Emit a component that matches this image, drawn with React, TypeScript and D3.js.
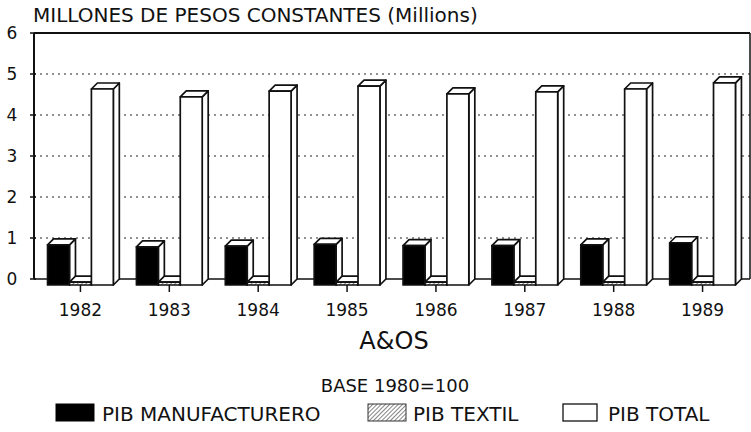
import React from 'react'
import * as d3 from 'd3'

// data
const years = ['1982', '1983', '1984', '1985', '1986', '1987', '1988', '1989']
const manufacturero = [0.98, 0.93, 0.95, 0.99, 0.96, 0.96, 0.98, 1.03]
const textil = [0.07, 0.07, 0.07, 0.07, 0.07, 0.07, 0.07, 0.07]
const total = [4.78, 4.59, 4.73, 4.85, 4.66, 4.71, 4.78, 4.93]
const yTicks = [0, 1, 2, 3, 4, 5, 6]
const seriesKeys = ['manufacturero', 'textil', 'total']
const legendLabels = ['PIB MANUFACTURERO', 'PIB TEXTIL', 'PIB TOTAL']

const W = 751
const H = 432
const FONT = "'DejaVu Sans', Verdana, sans-serif"
const DEPTH = 6

const left = 34
const right = 750
const top = 33
const bottom = 279

// one 3D bar: front face, top face, right side face
const Bar3D = ({ x, w, yTop, y0, fill }) => {
    const d = DEPTH
    const front = `M${x},${yTop + d}H${x + w}V${y0 + d}H${x}Z`
    const topFace = `M${x},${yTop + d}L${x + d},${yTop}H${x + w + d}L${x + w},${yTop + d}Z`
    const side = `M${x + w},${yTop + d}L${x + w + d},${yTop}V${y0}L${x + w},${y0 + d}Z`
    return (
        <g stroke='#111' strokeWidth={1.7} strokeLinejoin='round'>
            <path d={side} fill='#fff' />
            <path d={topFace} fill='#fff' />
            <path d={front} fill={fill} />
        </g>
    )
}

const App = () => {
    const y = d3.scaleLinear().domain([0, 6]).range([bottom, top])

    const x0 = d3
        .scaleBand()
        .domain(years)
        .range([36, 747])
        .paddingInner(0.26)
        .paddingOuter(0.13)

    const x1 = d3
        .scaleBand()
        .domain(seriesKeys)
        .range([0, x0.bandwidth()])

    const fills = {
        manufacturero: '#000',
        textil: 'url(#hatch)',
        total: '#fff',
    }
    const values = { manufacturero, textil, total }

    return (
        <svg
            width={W}
            height={H}
            style={{ position: 'absolute', left: 0, top: 0, background: '#fff' }}
            fontFamily={FONT}
        >
            <defs>
                <pattern id='hatch' width={3} height={3} patternUnits='userSpaceOnUse' patternTransform='rotate(45)'>
                    <rect width={3} height={3} fill='#fff' />
                    <line x1={0} y1={0} x2={0} y2={3} stroke='#333' strokeWidth={1.2} />
                </pattern>
            </defs>

            {/* title */}
            <text x={33} y={22} fontSize={20} fill='#111'>
                MILLONES DE PESOS CONSTANTES (Millions)
            </text>

            {/* dotted grid */}
            {yTicks.filter(t => t > 0 && t < 6).map(t => (
                <line
                    key={t}
                    x1={left}
                    x2={right}
                    y1={y(t)}
                    y2={y(t)}
                    stroke='#222'
                    strokeWidth={1}
                    strokeDasharray='2,4'
                />
            ))}

            {/* frame */}
            <line x1={left} x2={right} y1={top} y2={top} stroke='#111' strokeWidth={2} />
            <line x1={right} x2={right} y1={top} y2={bottom} stroke='#111' strokeWidth={1.5} />
            <line x1={left} x2={right} y1={bottom} y2={bottom} stroke='#111' strokeWidth={1.5} />
            <line x1={left} x2={left} y1={top} y2={bottom} stroke='#111' strokeWidth={2} />

            {/* y ticks and labels */}
            {yTicks.map(t => (
                <g key={t}>
                    <line x1={left - 4} x2={left + 2} y1={y(t)} y2={y(t)} stroke='#111' strokeWidth={1.5} />
                    <text
                        x={12}
                        y={y(t)}
                        dy='0.36em'
                        textAnchor='middle'
                        fontSize={17}
                        fill='#111'
                    >
                        {t}
                    </text>
                </g>
            ))}

            {/* bars */}
            {years.map((yr, i) => (
                <g key={yr}>
                    {seriesKeys.map(k => (
                        <Bar3D
                            key={k}
                            x={x0(yr) + x1(k)}
                            w={x1.bandwidth()}
                            yTop={y(values[k][i])}
                            y0={y(0)}
                            fill={fills[k]}
                        />
                    ))}
                    <line
                        x1={x0(yr) + x0.bandwidth() / 2}
                        x2={x0(yr) + x0.bandwidth() / 2}
                        y1={y(0) + DEPTH}
                        y2={y(0) + DEPTH + 7}
                        stroke='#111'
                        strokeWidth={1.5}
                    />
                    <text
                        x={x0(yr) + x0.bandwidth() / 2}
                        y={316}
                        textAnchor='middle'
                        fontSize={17}
                        fill='#111'
                    >
                        {yr}
                    </text>
                </g>
            ))}

            {/* axis title */}
            <text x={394} y={349} textAnchor='middle' fontSize={24} fill='#111'>
                A&amp;OS
            </text>
            <text x={395} y={392} textAnchor='middle' fontSize={18} fill='#111'>
                BASE 1980=100
            </text>

            {/* legend */}
            <rect x={56} y={404} width={38} height={17} fill='#000' stroke='#000' />
            <text x={102} y={421} fontSize={20} fill='#111'>{legendLabels[0]}</text>
            <rect x={368} y={404} width={38} height={17} fill='url(#hatch)' stroke='#333' strokeWidth={1} />
            <text x={413} y={421} fontSize={20} fill='#111'>{legendLabels[1]}</text>
            <rect x={563} y={404} width={34} height={17} fill='#fff' stroke='#111' strokeWidth={1.3} />
            <text x={608} y={421} fontSize={20} fill='#111'>{legendLabels[2]}</text>
        </svg>
    )
}

export default App
